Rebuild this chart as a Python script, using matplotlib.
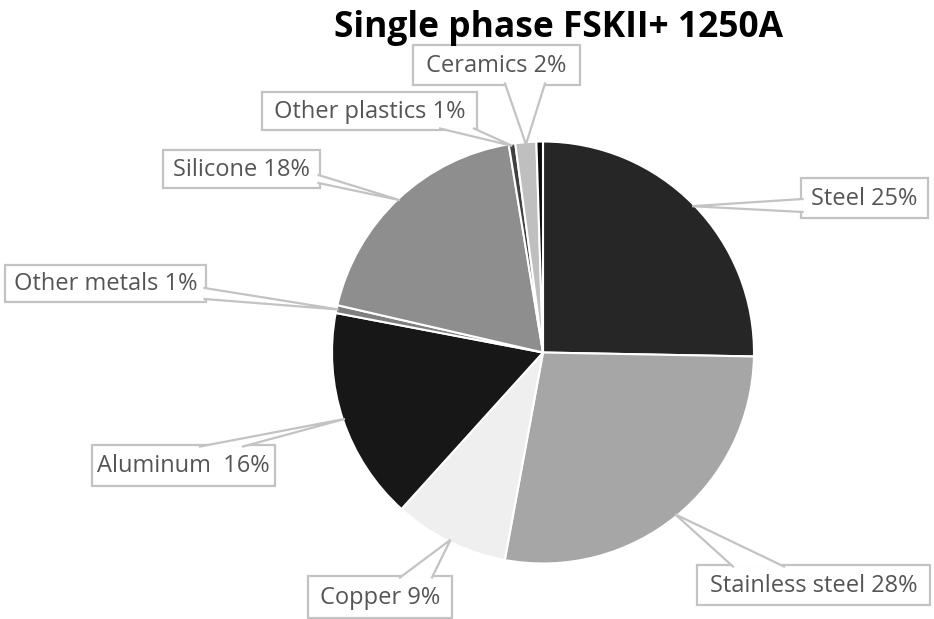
import numpy as np
import matplotlib
matplotlib.use("Agg")
import matplotlib.pyplot as plt
from matplotlib.patches import Rectangle, Polygon

W, H = 934, 619

materials = ["Steel", "Stainless steel", "Copper", "Aluminum", "Other metals",
             "Silicone", "Other plastics", "Ceramics", ""]
shares = [25.3, 27.6, 8.8, 16.3, 0.6, 18.8, 0.5, 1.6, 0.5]
label_texts = ["Steel 25%", "Stainless steel 28%", "Copper 9%", "Aluminum  16%",
               "Other metals 1%", "Silicone 18%", "Other plastics 1%", "Ceramics 2%"]
colors = ["#262626", "#a6a6a6", "#efefef", "#171717", "#7f7f7f",
          "#8e8e8e", "#404040", "#bfbfbf", "#0d0d0d"]

# label boxes in pixel coords (x0, y0, x1, y1), y measured from top
boxes = [(801, 178, 928, 218), (697, 565, 930, 605), (308, 576, 452, 618),
         (92, 445, 275, 486), (5, 265, 206, 302), (163, 150, 320, 188),
         (262, 92, 477, 130), (413, 45, 580, 85)]
# where the pointer leaves the box (two points on the edge)
tail_bases = [((801, 199), (801, 212)), ((733, 565), (784, 565)),
              ((400, 576), (432, 576)), ((200, 445), (243, 445)),
              ((206, 288), (206, 299)), ((320, 175), (320, 183)),
              ((440, 130), (474, 130)), ((505, 85), (545, 85))]

cx, cy, R = 543, 352.5, 211
edge = "#c3c3c3"


def py(y):
    return H - y


fig = plt.figure(figsize=(W / 100, H / 100), dpi=100)
ax = fig.add_axes([0, 0, 1, 1])

wedges, _ = ax.pie(shares, colors=colors, startangle=90, counterclock=False,
                   center=(cx, py(cy)), radius=R,
                   wedgeprops=dict(edgecolor="white", linewidth=1.5))
ax.set_xlim(0, W)
ax.set_ylim(0, H)
ax.set_aspect("equal")
ax.axis("off")

for i, txt in enumerate(label_texts):
    w = wedges[i]
    mid = np.deg2rad((w.theta1 + w.theta2) / 2)
    tip = (cx + 0.99 * R * np.cos(mid), py(cy) + 0.99 * R * np.sin(mid))
    x0, y0, x1, y1 = boxes[i]
    ax.add_patch(Rectangle((x0, py(y1)), x1 - x0, y1 - y0, facecolor="white",
                           edgecolor=edge, linewidth=1.6, zorder=3))
    (bx1, by1), (bx2, by2) = tail_bases[i]
    # nudge base points into the box so the fill hides the box border there
    ccx, ccy = (x0 + x1) / 2, (y0 + y1) / 2
    b1 = (bx1 + np.sign(ccx - bx1) * 1.5 * (bx1 in (x0, x1)),
          by1 + np.sign(ccy - by1) * 1.5 * (by1 in (y0, y1)))
    b2 = (bx2 + np.sign(ccx - bx2) * 1.5 * (bx2 in (x0, x1)),
          by2 + np.sign(ccy - by2) * 1.5 * (by2 in (y0, y1)))
    pts = [(b1[0], py(b1[1])), tip, (b2[0], py(b2[1]))]
    ax.add_patch(Polygon(pts, closed=True, facecolor="white", edgecolor="none",
                         zorder=4))
    ax.plot([pts[0][0], tip[0], pts[2][0]], [pts[0][1], tip[1], pts[2][1]],
            color=edge, linewidth=1.6, zorder=4, solid_joinstyle="miter")
    ax.text(ccx, py(ccy + 1), txt, ha="center", va="center", fontsize=17,
            family="Open Sans", color="#555555", zorder=5)

ax.text(558, py(28), "Single phase FSKII+ 1250A", ha="center", va="center",
        fontsize=25.5, fontweight="bold", family="Open Sans", color="black")

fig.savefig("out.png", dpi=100, facecolor="white")
